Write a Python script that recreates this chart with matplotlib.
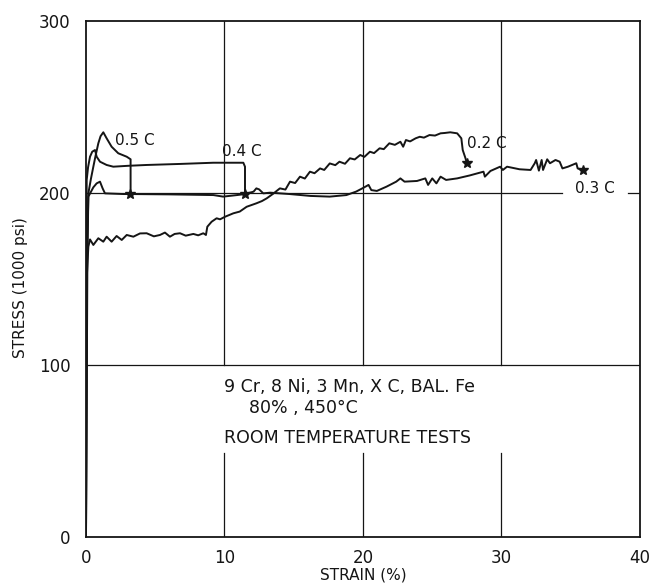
import matplotlib
matplotlib.use("Agg")
import matplotlib.pyplot as plt

# stress-strain curves (strain %, stress 1000 psi)
strain_05 = [0, 0.1, 0.17, 0.35, 0.53, 0.7, 0.89, 1.05, 1.25, 1.49, 1.85, 2.33, 2.94, 3.22, 3.22]
stress_05 = [0, 160, 199.8, 208, 215.3, 222, 228.9, 233, 235.3, 231.8, 226.9, 223.1, 221.1, 219.6, 199.4]

strain_04 = [0, 0.03, 0.05, 0.15, 0.29, 0.45, 0.65, 0.77, 1.01, 1.49, 1.97, 3.0, 4.38,
             6.79, 9.19, 11.36, 11.48, 11.48]
stress_04 = [0, 170, 207.6, 215, 221.1, 224, 225, 221.1, 218.2, 216.3, 215.3, 215.8, 216.3,
             216.9, 217.6, 217.6, 215.3, 199.4]

strain_03 = [0, 0.08, 0.17, 0.53, 0.77, 1.01, 1.2, 1.37, 2.7, 3.2, 6.0, 9.2, 9.9, 10.9, 11.5,
             12.1, 12.3, 12.5, 12.8, 13.3, 14.7, 16.2, 17.6, 18.8, 19.5, 20.0, 20.4, 20.6,
             21.0, 21.7, 22.4, 22.7, 23.0, 23.9, 24.5, 24.7, 25.0, 25.3, 25.6, 26.0, 26.8,
             27.7, 28.7, 28.8, 29.2, 29.9, 30.1, 30.4, 31.3, 32.1, 32.4, 32.5, 32.7, 32.9,
             33.0, 33.3, 33.5, 33.9, 34.2, 34.4, 34.8, 35.4, 35.5, 35.9]
stress_03 = [0, 165, 197.9, 203.3, 205.6, 206.6, 202.7, 199.8, 199.4, 199.4, 199.2, 198.8,
             197.9, 198.8, 199.4, 200.8, 202.7, 202.1, 199.8, 200.2, 199.4, 198.3, 197.9,
             198.8, 200.8, 202.9, 204.7, 201.7, 201.2, 203.7, 206.6, 208.5, 206.6, 207.0,
             208.5, 204.7, 208.5, 205.6, 209.5, 207.6, 208.5, 210.2, 212.4, 209.5, 212.8,
             215.3, 213.4, 215.3, 213.8, 213.4, 217.3, 219.2, 213.0, 219.2, 213.4, 219.6,
             217.3, 219.2, 218.2, 214.3, 215.3, 217.3, 214.3, 213.4]

strain_02 = [0, 0.05, 0.17, 0.29, 0.53, 0.89, 1.25, 1.49, 1.85, 2.21, 2.58, 2.94, 3.42, 3.9,
             4.38, 4.9, 5.34, 5.7, 6.06, 6.4, 6.79, 7.2, 7.75, 8.1, 8.47, 8.66, 8.76, 9.07,
             9.43, 9.68, 10.04, 10.64, 11.1, 11.6, 12.3, 12.7, 13.05, 13.5, 14.0, 14.4,
             14.73, 15.1, 15.45, 15.8, 16.17, 16.5, 16.9, 17.2, 17.6, 18.0, 18.3, 18.7,
             19.06, 19.4, 19.8, 20.1, 20.5, 20.8, 21.2, 21.5, 21.9, 22.3, 22.7, 22.9, 23.1,
             23.4, 23.8, 24.1, 24.4, 24.8, 25.2, 25.6, 25.9, 26.3, 26.8, 27.1, 27.2, 27.4,
             27.5]
stress_02 = [0, 150, 168.8, 173, 169.8, 173.7, 171.7, 174.6, 171.7, 175, 172.7, 175.6, 174.6,
             176.5, 176.6, 174.8, 175.6, 177, 174.6, 176.2, 176.6, 175.2, 176.2, 175.4, 176.6,
             175.6, 180.4, 183.3, 185.3, 184.7, 186.2, 188.2, 189.2, 192, 194, 195.3, 196.9,
             199.5, 202.7, 202.0, 206.6, 205.8, 209.5, 208.4, 212.4, 211.5, 214.3, 213.4,
             217.2, 216.2, 218.2, 217.0, 220.2, 219.5, 222.1, 221.0, 224, 223.2, 226, 225.5,
             228.9, 228.0, 229.8, 226.9, 230.8, 230.0, 231.8, 232.7, 232.2, 233.7, 233.4,
             234.7, 234.9, 235.3, 234.7, 231.8, 225, 220.2, 217.3]

# fracture points
break_strain = [3.2, 11.5, 27.5, 35.9]
break_stress = [199.4, 199.4, 217.3, 213.4]

curve_labels = ["0.5 C", "0.4 C", "0.2 C", "0.3 C"]
label_pos = [(2.1, 230.4), (9.8, 224.0), (27.5, 229.0), (35.3, 202.7)]

x_ticks = [0, 10, 20, 30, 40]
y_ticks = [0, 100, 200, 300]

ink = "#151515"
fig = plt.figure(figsize=(6.51, 5.87), dpi=100)
ax = fig.add_axes([0.1321, 0.0852, 0.851, 0.879])

# hand-drawn grid: verticals broken where the caption sits, 200 line broken by a label
for gx in x_ticks[1:-1]:
    ax.plot([gx, gx], [0, 49], color=ink, lw=0.9)
    ax.plot([gx, gx], [100, 300], color=ink, lw=0.9)
ax.plot([0, 40], [100, 100], color=ink, lw=0.9)
ax.plot([0, 34.4], [200, 200], color=ink, lw=0.9)
ax.plot([39.1, 40], [200, 200], color=ink, lw=0.9)

for sx, sy in [(strain_05, stress_05), (strain_04, stress_04),
               (strain_03, stress_03), (strain_02, stress_02)]:
    ax.plot(sx, sy, color=ink, lw=1.4, solid_joinstyle="round")
ax.plot(break_strain, break_stress, ls="none", marker="*", ms=7, color=ink)

for txt, (lx, ly) in zip(curve_labels, label_pos):
    ax.text(lx, ly, txt, fontsize=11, ha="left", va="center", color=ink)

ax.text(10.0, 87.4, "9 Cr, 8 Ni, 3 Mn, X C, BAL. Fe", fontsize=12.5, ha="left", va="center", color=ink)
ax.text(11.8, 75.0, "80% , 450°C", fontsize=12.5, ha="left", va="center", color=ink)
ax.text(10.0, 57.7, "ROOM TEMPERATURE TESTS", fontsize=12.5, ha="left", va="center", color=ink)

ax.set_xlim(0, 40)
ax.set_ylim(0, 300)
ax.set_xticks(x_ticks)
ax.set_yticks(y_ticks)
ax.tick_params(length=0, labelsize=12, colors=ink)
ax.tick_params(axis="x", pad=9)
ax.tick_params(axis="y", pad=11)
for sp in ax.spines.values():
    sp.set_linewidth(1.3)
    sp.set_color(ink)

ax.set_xlabel("STRAIN (%)", fontsize=11, color=ink)
ax.xaxis.set_label_coords(0.5, -0.06)
ax.set_ylabel("STRESS (1000 psi)", fontsize=11, color=ink)
ax.yaxis.set_label_coords(-0.105, 0.484)

fig.savefig("out.png", dpi=100)
